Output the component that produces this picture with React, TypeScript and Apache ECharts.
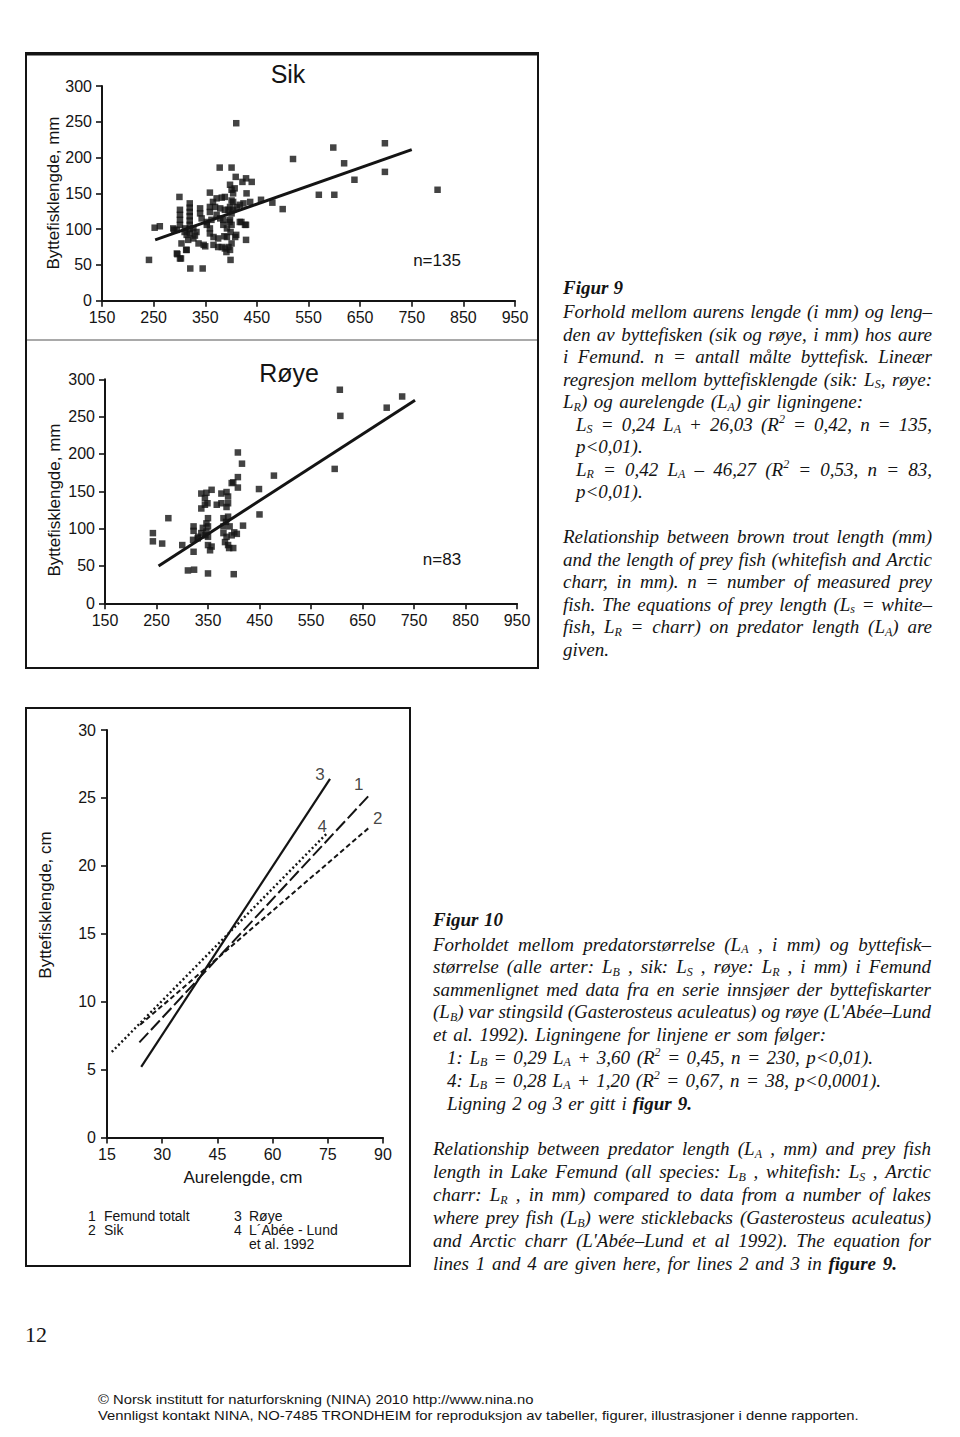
import React, { useEffect, useRef } from "react";
import * as echarts from "echarts";

// ---------------- DATA ----------------
// Figur 9, Sik (whitefish): [aurelengde mm, byttefisklengde mm]
const sikPoints: number[][] = [
  [241, 57], [252, 102], [262, 104], [300, 145], [290, 99], [296, 65], [303, 59], [304, 80], [313, 71],
  [321, 45], [345, 45], [410, 248], [378, 186], [401, 186], [359, 151], [520, 198], [598, 214], [619, 192],
  [639, 169], [570, 148], [600, 148], [500, 128], [480, 137], [698, 220], [698, 180], [800, 155], [429, 85],
  [399, 57], [429, 106], [420, 110], [398, 71], [391, 68], [458, 141], [440, 166], [429, 171], [422, 166],
  [409, 173], [407, 157], [398, 162], [430, 150], [401, 155], [404, 150], [372, 143], [382, 144], [388, 145],
  [401, 140], [404, 138], [320, 136], [320, 130], [320, 124], [320, 118], [320, 112], [320, 106], [320, 100],
  [320, 94], [301, 127], [301, 120], [340, 129], [340, 122], [343, 115], [359, 131], [359, 124], [369, 131],
  [379, 129], [388, 127], [395, 127], [411, 131], [417, 134], [424, 136], [437, 138], [372, 120], [379, 115],
  [385, 113], [398, 113], [401, 106], [301, 113], [301, 106], [288, 101], [295, 99], [311, 101], [314, 92],
  [327, 101], [333, 96], [353, 106], [359, 101], [353, 110], [362, 113], [385, 106], [392, 101], [417, 110],
  [427, 106], [359, 94], [366, 89], [375, 87], [327, 87], [337, 80], [347, 78], [317, 85], [392, 89],
  [408, 89], [350, 76], [366, 78], [375, 75], [382, 75], [388, 73], [395, 75], [401, 80], [314, 71],
  [295, 66], [301, 59], [365, 138], [397, 110], [399, 96], [398, 131], [401, 122], [404, 127], [410, 92],
  [387, 90], [330, 91], [310, 96],
];
const sikRegression: number[][] = [[253, 85], [750, 211]];
const sikN = "n=135";

// Figur 9, Røye (Arctic charr)
const royePoints: number[][] = [
  [606, 286], [607, 251], [596, 180], [697, 262], [727, 277], [478, 171], [449, 153], [450, 119], [418, 104],
  [408, 202], [416, 187], [408, 169], [408, 155], [399, 162], [243, 94], [243, 83], [261, 80], [273, 114],
  [300, 78], [311, 44], [323, 45], [350, 40], [400, 39], [322, 69], [322, 103], [322, 97], [330, 87],
  [396, 161], [337, 147], [347, 148], [357, 152], [344, 141], [337, 127], [344, 132], [376, 147], [386, 149],
  [389, 143], [367, 132], [376, 134], [389, 134], [386, 129], [350, 114], [347, 107], [350, 103], [347, 96],
  [350, 89], [337, 94], [331, 89], [321, 85], [380, 114], [385, 109], [389, 116], [380, 103], [386, 89],
  [396, 91], [406, 93], [380, 94], [389, 78], [399, 74], [383, 82], [357, 76], [350, 78], [354, 71],
  [349, 134], [392, 103], [401, 95], [391, 74], [345, 91], [340, 101],
];
const royeRegression: number[][] = [[254, 50], [752, 272]];
const royeN = "n=83";

// Figur 10: regression lines [aurelengde cm, byttefisklengde cm]
const line1Femund: number[][] = [[23.8, 7.0], [86.6, 25.3]];
const line2Sik: number[][] = [[24.0, 8.3], [86.6, 22.9]];
const line3Roye: number[][] = [[24.3, 5.2], [75.6, 26.4]];
const line4Labee: number[][] = [[16.3, 6.3], [74.8, 22.4]];
const lineTags = ["3", "1", "2", "4"];
const lineTagPos: number[][] = [[72.9, 26.7], [83.4, 26.0], [88.6, 23.5], [73.5, 22.9]];

const mmTicks = { min: 150, max: 950, interval: 100 };
const preyTicks = { min: 0, max: 300, interval: 50 };
const cmXTicks = { min: 15, max: 90, interval: 15 };
const cmYTicks = { min: 0, max: 30, interval: 5 };

// ---------------- CAPTIONS ----------------
type CapLine = { t: string; x0: number; x1?: number; y: number };
const figur9Caption: CapLine[] = [
  { t: "*Figur *9", x0: 563, x1: 623, y: 287 },
  { t: "Forhold mellom aurens lengde (i mm) og leng–", x0: 563, x1: 932, y: 311.5 },
  { t: "den av byttefisken (sik og røye, i mm) hos aure", x0: 563, x1: 932, y: 334 },
  { t: "i Femund. n = antall målte byttefisk. Lineær", x0: 563, x1: 932, y: 356.5 },
  { t: "regresjon mellom byttefisklengde (sik: L_S, røye:", x0: 563, x1: 932, y: 379 },
  { t: "L_R) og aurelengde (L_A) gir ligningene:", x0: 563, x1: 863, y: 401.5 },
  { t: "L_S = 0,24 L_A + 26,03 (R^2 = 0,42, n = 135,", x0: 576, x1: 932, y: 424 },
  { t: "p<0,01).", x0: 576, y: 446.5 },
  { t: "L_R = 0,42 L_A – 46,27 (R^2 = 0,53, n = 83,", x0: 576, x1: 932, y: 469 },
  { t: "p<0,01).", x0: 576, y: 491 },
  { t: "Relationship between brown trout length (mm)", x0: 563, x1: 932, y: 536.5 },
  { t: "and the length of prey fish (whitefish and Arctic", x0: 563, x1: 932, y: 559 },
  { t: "charr, in mm). n = number of measured prey", x0: 563, x1: 932, y: 581.5 },
  { t: "fish. The equations of prey length (L_s = white–", x0: 563, x1: 932, y: 604 },
  { t: "fish, L_R = charr) on predator length (L_A) are", x0: 563, x1: 932, y: 626.5 },
  { t: "given.", x0: 563, y: 649 },
];
const figur10Caption: CapLine[] = [
  { t: "*Figur *10", x0: 433, x1: 503, y: 919 },
  { t: "Forholdet mellom predatorstørrelse (L_A , i mm) og byttefisk–", x0: 433, x1: 931, y: 944 },
  { t: "størrelse (alle arter: L_B , sik: L_S , røye: L_R , i mm) i Femund", x0: 433, x1: 931, y: 966.5 },
  { t: "sammenlignet med data fra en serie innsjøer der byttefiskarter", x0: 433, x1: 931, y: 989 },
  { t: "(L_B) var stingsild (Gasterosteus aculeatus) og røye (L'Abée–Lund", x0: 433, x1: 931, y: 1011.5 },
  { t: "et al. 1992). Ligningene for linjene er som følger:", x0: 433, x1: 826, y: 1034.5 },
  { t: "1: L_B = 0,29 L_A + 3,60 (R^2 = 0,45, n = 230, p<0,01).", x0: 447, x1: 873, y: 1057 },
  { t: "4: L_B = 0,28 L_A + 1,20 (R^2 = 0,67, n = 38, p<0,0001).", x0: 447, x1: 881, y: 1080 },
  { t: "Ligning 2 og 3 er gitt i *figur *9.", x0: 447, x1: 692, y: 1103 },
  { t: "Relationship between predator length (L_A , mm) and prey fish", x0: 433, x1: 931, y: 1148.5 },
  { t: "length in Lake Femund (all species: L_B , whitefish: L_S , Arctic", x0: 433, x1: 931, y: 1171.5 },
  { t: "charr: L_R , in mm) compared to data from a number of lakes", x0: 433, x1: 931, y: 1194.5 },
  { t: "where prey fish (L_B) were sticklebacks (Gasterosteus aculeatus)", x0: 433, x1: 931, y: 1217.5 },
  { t: "and Arctic charr (L'Abée–Lund et al 1992). The equation for", x0: 433, x1: 931, y: 1240.5 },
  { t: "lines 1 and 4 are given here, for lines 2 and 3 in *figure *9.", x0: 433, x1: 897, y: 1263 },
];
const footerLines = [
  "© Norsk institutt for naturforskning (NINA) 2010 http://www.nina.no",
  "Vennligst kontakt NINA, NO-7485 TRONDHEIM for reproduksjon av tabeller, figurer, illustrasjoner i denne rapporten.",
];
const pageNumber = "12";

// ---------------- HELPERS ----------------
const SANS = "Liberation Sans";
const SERIF = "Liberation Serif";
const INK = "#141414";
const FS = 19;
const SUBFS = 12;

let measureCtx: CanvasRenderingContext2D | null = null;
function measure(text: string, font: string): number {
  if (!measureCtx) measureCtx = document.createElement("canvas").getContext("2d");
  measureCtx!.font = font;
  return measureCtx!.measureText(text).width;
}

type Seg = { t: string; k: "n" | "b" | "s" | "p" };
function parseWord(word: string): Seg[] {
  let w = word;
  let bold = false;
  if (w.startsWith("*")) {
    bold = true;
    w = w.slice(1);
  }
  const base: "n" | "b" = bold ? "b" : "n";
  const segs: Seg[] = [];
  let buf = "";
  for (let i = 0; i < w.length; i++) {
    const c = w[i];
    if ((c === "_" || c === "^") && i + 1 < w.length) {
      if (buf) {
        segs.push({ t: buf, k: base });
        buf = "";
      }
      segs.push({ t: w[i + 1], k: c === "_" ? "s" : "p" });
      i++;
    } else buf += c;
  }
  if (buf) segs.push({ t: buf, k: base });
  return segs;
}
function segFont(k: string): string {
  if (k === "b") return `italic bold ${FS}px "${SERIF}"`;
  if (k === "n") return `italic ${FS}px "${SERIF}"`;
  return `italic ${SUBFS}px "${SERIF}"`;
}

function captionElement(line: CapLine) {
  const words = line.t.split(" ");
  const segsList = words.map(parseWord);
  const widths = segsList.map((segs) => segs.reduce((a, s) => a + measure(s.t, segFont(s.k)), 0));
  const total = widths.reduce((a, b) => a + b, 0);
  let gap = measure(" ", segFont("n"));
  if (line.x1 != null && words.length > 1) gap = (line.x1 - line.x0 - total) / (words.length - 1);
  gap = Math.max(gap, 3);
  const text = segsList
    .map((segs) => segs.map((s) => `{${s.k}|${s.t}}`).join(""))
    .join("{g| }");
  const rich: any = {
    n: { fontSize: FS, fontFamily: SERIF, fontStyle: "italic", lineHeight: 22, verticalAlign: "middle", fill: INK },
    b: { fontSize: FS, fontFamily: SERIF, fontStyle: "italic", fontWeight: "bold", lineHeight: 22, verticalAlign: "middle", fill: INK },
    s: { fontSize: SUBFS, fontFamily: SERIF, fontStyle: "italic", lineHeight: 11, verticalAlign: "bottom", fill: INK },
    p: { fontSize: SUBFS, fontFamily: SERIF, fontStyle: "italic", lineHeight: 13, verticalAlign: "top", fill: INK },
    g: { width: gap, fontSize: FS, fontFamily: SERIF, lineHeight: 22, fill: INK },
  };
  return {
    type: "text",
    x: line.x0,
    y: line.y,
    silent: true,
    style: { text, rich, align: "left", verticalAlign: "middle" },
  };
}

function plainText(text: string, x: number, y: number, size: number, opts: any = {}) {
  return {
    type: "text",
    x,
    y,
    rotation: opts.rotation || 0,
    silent: true,
    style: {
      text,
      fill: INK,
      font: `${opts.weight || "normal"} ${size}px "${opts.family || SANS}"`,
      align: opts.align || "left",
      verticalAlign: "middle",
    },
  };
}

function axisCommon(ticks: { min: number; max: number; interval: number }, gridIndex: number, margin: number) {
  return {
    type: "value",
    gridIndex,
    min: ticks.min,
    max: ticks.max,
    interval: ticks.interval,
    axisLine: { show: true, onZero: false, lineStyle: { color: INK, width: 2 } },
    axisTick: { show: true, inside: false, length: 6, lineStyle: { color: INK, width: 1.6 } },
    axisLabel: { color: INK, fontSize: 16, fontFamily: SANS, margin },
    splitLine: { show: false },
  };
}

export default function App() {
  const ref = useRef<HTMLDivElement>(null);

  useEffect(() => {
    if (!ref.current) return;
    const chart = echarts.init(ref.current, undefined, { renderer: "svg", width: 960, height: 1437 });

    // footer: 13px sans, squeezed horizontally to the reference line width
    const FOOT = 13;
    const footFont = `${FOOT}px "${SANS}"`;
    const wFoot = measure(footerLines[1], footFont) || 762;
    const footScale = Math.max(0.6, Math.min(1.2, 762 / wFoot));

    const graphics: any[] = [
      // boxes
      { type: "rect", shape: { x: 26, y: 53, width: 512, height: 615 }, style: { fill: "none", stroke: INK, lineWidth: 2 }, silent: true },
      { type: "line", shape: { x1: 26, y1: 54, x2: 538, y2: 54 }, style: { stroke: INK, lineWidth: 3 }, silent: true },
      { type: "line", shape: { x1: 27, y1: 340, x2: 537, y2: 340 }, style: { stroke: "#555", lineWidth: 1.2 }, silent: true },
      { type: "rect", shape: { x: 26, y: 708, width: 384, height: 558 }, style: { fill: "none", stroke: INK, lineWidth: 2 }, silent: true },
      // titles
      plainText("Sik", 288, 74, 25, { align: "center" }),
      plainText("Røye", 289, 373, 25, { align: "center" }),
      plainText(sikN, 437, 260, 17, { align: "center" }),
      plainText(royeN, 442, 559, 17, { align: "center" }),
      // y axis names
      plainText("Byttefisklengde, mm", 53, 193, 17, { align: "center", rotation: Math.PI / 2 }),
      plainText("Byttefisklengde, mm", 54, 500, 17, { align: "center", rotation: Math.PI / 2 }),
      plainText("Byttefisklengde, cm", 45, 905, 17, { align: "center", rotation: Math.PI / 2 }),
      plainText("Aurelengde, cm", 243, 1177, 17, { align: "center" }),
      // legend of figur 10
      plainText("1", 88, 1216, 14),
      plainText("Femund totalt", 104, 1216, 14),
      plainText("2", 88, 1230, 14),
      plainText("Sik", 104, 1230, 14),
      plainText("3", 234, 1216, 14),
      plainText("Røye", 249, 1216, 14),
      plainText("4", 234, 1230, 14),
      plainText("L´Abée - Lund", 249, 1230, 14),
      plainText("et al. 1992", 249, 1244, 14),
      // page number & footer
      plainText(pageNumber, 25, 1334, 22, { family: SERIF }),
      {
        type: "text", x: 98, y: 1399.5, scaleX: footScale, silent: true,
        style: { text: footerLines[0], fill: INK, font: footFont, verticalAlign: "middle" },
      },
      {
        type: "text", x: 98, y: 1415, scaleX: footScale, silent: true,
        style: { text: footerLines[1], fill: INK, font: footFont, verticalAlign: "middle" },
      },
      ...figur9Caption.map(captionElement),
      ...figur10Caption.map(captionElement),
    ];

    const scatterStyle = { symbol: "rect", symbolSize: 6.5, itemStyle: { color: INK } };

    chart.setOption({
      animation: false,
      backgroundColor: "#ffffff",
      grid: [
        { left: 102, top: 86, width: 413, height: 214.7, containLabel: false },
        { left: 105, top: 379.3, width: 412, height: 224, containLabel: false },
        { left: 107, top: 730, width: 276, height: 407.5, containLabel: false },
      ],
      xAxis: [
        axisCommon(mmTicks, 0, 9),
        axisCommon(mmTicks, 1, 9),
        axisCommon(cmXTicks, 2, 9),
      ],
      yAxis: [
        axisCommon(preyTicks, 0, 10),
        axisCommon(preyTicks, 1, 10),
        axisCommon(cmYTicks, 2, 11),
      ],
      series: [
        { type: "scatter", xAxisIndex: 0, yAxisIndex: 0, data: sikPoints, ...scatterStyle },
        { type: "line", xAxisIndex: 0, yAxisIndex: 0, data: sikRegression, symbol: "none", lineStyle: { color: INK, width: 3 } },
        { type: "scatter", xAxisIndex: 1, yAxisIndex: 1, data: royePoints, ...scatterStyle },
        { type: "line", xAxisIndex: 1, yAxisIndex: 1, data: royeRegression, symbol: "none", lineStyle: { color: INK, width: 3 } },
        { type: "line", xAxisIndex: 2, yAxisIndex: 2, data: line3Roye, symbol: "none", lineStyle: { color: INK, width: 2.2 } },
        { type: "line", xAxisIndex: 2, yAxisIndex: 2, data: line1Femund, symbol: "none", lineStyle: { color: INK, width: 2, type: [13, 4] } },
        { type: "line", xAxisIndex: 2, yAxisIndex: 2, data: line2Sik, symbol: "none", lineStyle: { color: INK, width: 2, type: [5, 3] } },
        { type: "line", xAxisIndex: 2, yAxisIndex: 2, data: line4Labee, symbol: "none", lineStyle: { color: INK, width: 2.4, type: [2, 2.6] } },
        {
          type: "scatter", xAxisIndex: 2, yAxisIndex: 2, symbolSize: 0,
          data: lineTags.map((name, i) => ({ name, value: lineTagPos[i] })),
          label: { show: true, position: "inside", formatter: "{b}", color: INK, fontSize: 17, fontFamily: SANS },
        },
      ],
      graphic: graphics,
    });

    return () => chart.dispose();
  }, []);

  return (
    <div
      ref={ref}
      style={{ position: "absolute", left: 0, top: 0, width: 960, height: 1437, background: "#fff" }}
    />
  );
}
